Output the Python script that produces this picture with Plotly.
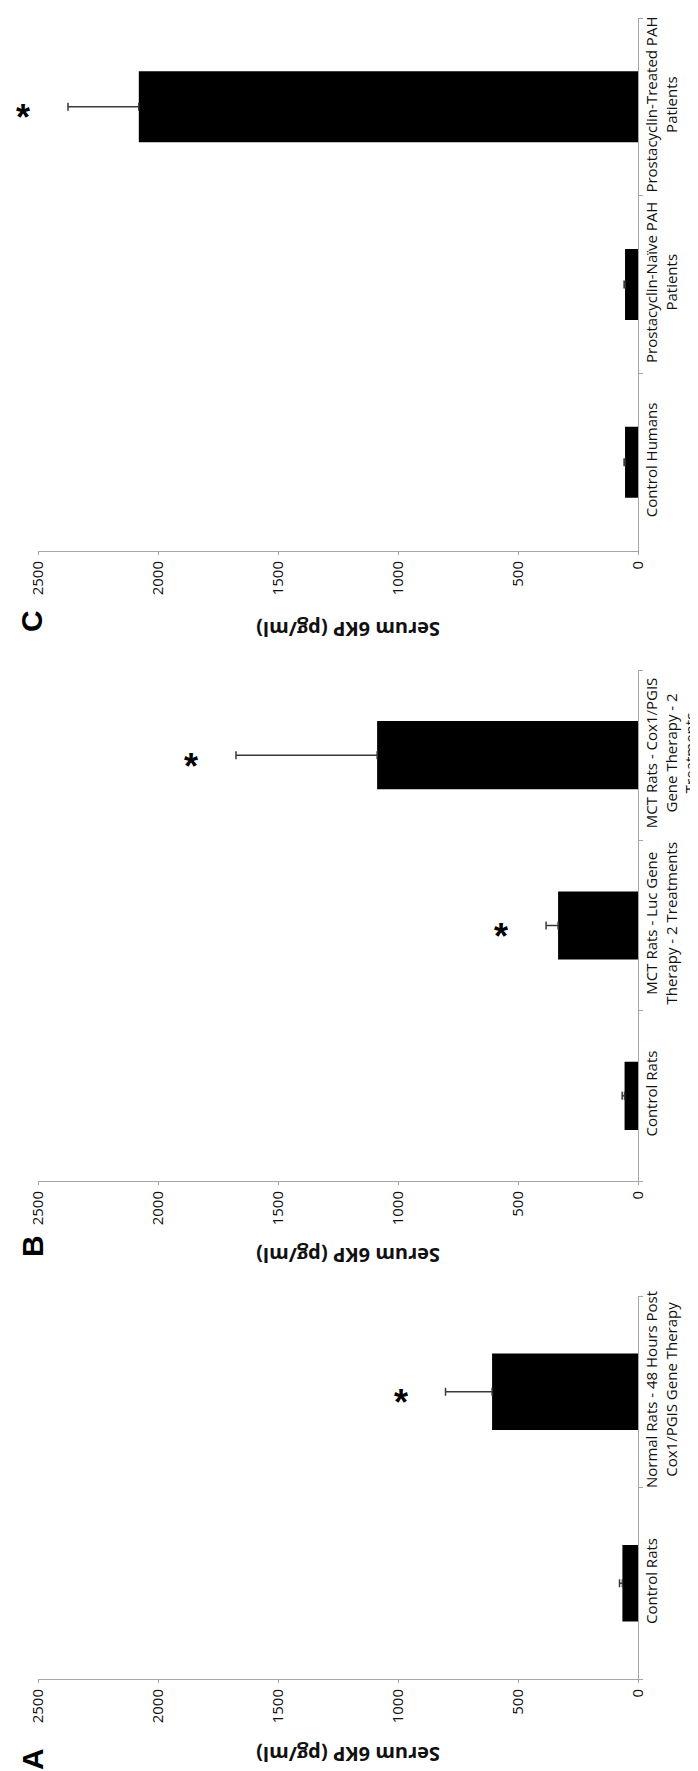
import plotly.graph_objects as go

# ---------------- data ----------------
cats_a = ["Control Rats", "Normal Rats - 48 Hours Post<br>Cox1/PGIS Gene Therapy"]
vals_a = [65, 608]
err_a = [12, 194]
sig_a = [False, True]

cats_b = ["Control Rats", "MCT Rats - Luc Gene<br>Therapy - 2 Treatments",
          "MCT Rats - Cox1/PGIS<br>Gene Therapy - 2<br>Treatments"]
vals_b = [56, 333, 1087]
err_b = [10, 50, 588]
sig_b = [False, True, True]

cats_c = ["Control Humans", "Prostacyclin-Naïve PAH<br>Patients",
          "Prostacyclin-Treated PAH<br>Patients"]
vals_c = [54, 54, 2080]
err_c = [4, 4, 295]
sig_c = [False, False, True]

value_ticks = [0, 500, 1000, 1500, 2000, 2500]
value_max = 2500
axis_title = "Serum 6KP (pg/ml)"
panel_letters = ["A", "B", "C"]

# ---------------- layout geometry (pixels) ----------------
W, H = 698, 1771
AX_L, AX_R = 30, 630
# (top, bottom, letter_y, title_y)
geom = [
    (1288, 1671, 1751, 1747),   # A
    (662, 1173, 1238, 1248),    # B
    (10, 543, 613, 622),        # C
]

panels = [
    (panel_letters[0], cats_a, vals_a, err_a, sig_a),
    (panel_letters[1], cats_b, vals_b, err_b, sig_b),
    (panel_letters[2], cats_c, vals_c, err_c, sig_c),
]

AXIS_GRAY = "#a6a6a6"
TXT = "#111111"

fig = go.Figure()
annotations = []

for i, ((letter, cats, vals, errs, sigs), (top, bot, ly, ty)) in enumerate(zip(panels, geom)):
    sfx = "" if i == 0 else str(i + 1)
    xref, yref = "x" + sfx, "y" + sfx
    fig.add_trace(go.Bar(
        x=vals, y=cats, orientation="h",
        marker=dict(color="black", line=dict(width=0)),
        error_x=dict(type="data", array=errs, arrayminus=[0] * len(errs),
                     symmetric=False, color="#3a3a3a", thickness=1.5, width=4),
        xaxis=xref, yaxis=yref, showlegend=False, hoverinfo="skip",
    ))
    fig.update_layout(**{
        "xaxis" + sfx: dict(
            domain=[AX_L / W, AX_R / W], range=[value_max, 0], anchor=yref,
            tickvals=value_ticks, ticktext=[str(v) for v in value_ticks],
            tickangle=-90, ticks="outside", ticklen=3, tickcolor=AXIS_GRAY,
            showline=True, linecolor=AXIS_GRAY, linewidth=1,
            showgrid=False, zeroline=False, automargin=False,
            tickfont=dict(family="Open Sans", size=15, color=TXT),
        ),
        "yaxis" + sfx: dict(
            domain=[1 - bot / H, 1 - top / H], anchor=xref, side="right",
            type="category", categoryorder="array", categoryarray=cats,
            showline=True, linecolor=AXIS_GRAY, linewidth=1,
            ticks="outside", tickson="boundaries", ticklen=4, tickcolor=AXIS_GRAY,
            tickangle=-90, showgrid=False, zeroline=False, automargin=False,
            tickfont=dict(family="Open Sans", size=15, color=TXT),
        ),
    })
    # panel letter
    annotations.append(dict(
        text="<b>%s</b>" % letter, x=24 / W, y=1 - ly / H, xref="paper", yref="paper",
        textangle=-90, showarrow=False, xanchor="center", yanchor="middle",
        font=dict(family="Liberation Sans", size=30, color="black"),
    ))
    # axis title (upside down)
    annotations.append(dict(
        text="<b>%s</b>" % axis_title, x=340 / W, y=1 - ty / H, xref="paper", yref="paper",
        textangle=180, showarrow=False, xanchor="center", yanchor="middle",
        font=dict(family="Open Sans", size=20, color=TXT),
    ))
    # significance asterisks
    for c, v, e, s in zip(cats, vals, errs, sigs):
        if s:
            annotations.append(dict(
                text="<b>*</b>", x=v + e, y=c, xref=xref, yref=yref,
                xshift=-45, yshift=-11, showarrow=False,
                xanchor="center", yanchor="middle",
                font=dict(family="Liberation Sans", size=36, color="black"),
            ))

fig.update_layout(
    width=W, height=H, margin=dict(l=0, r=0, t=0, b=0, autoexpand=False),
    paper_bgcolor="white", plot_bgcolor="white",
    bargap=0.6, showlegend=False, annotations=annotations,
)

fig.write_html("out.html")
